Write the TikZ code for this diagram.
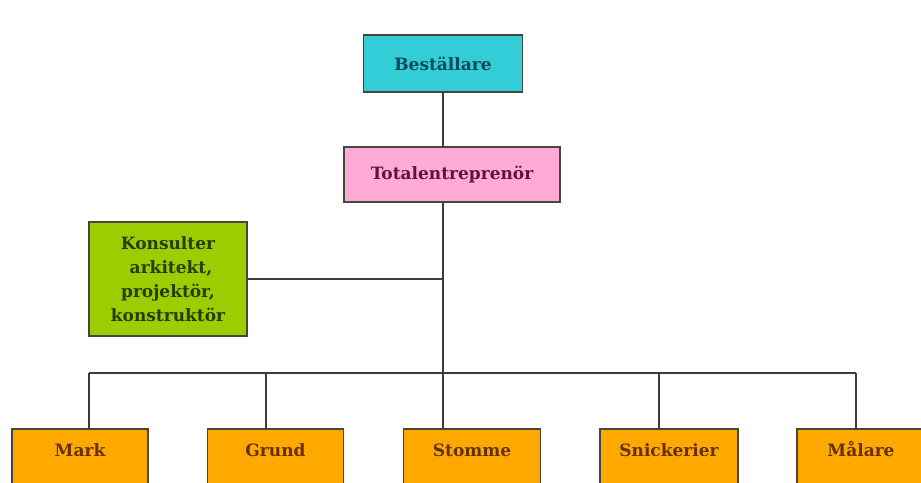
\documentclass[tikz,border=0pt]{standalone}
\usepackage{fontspec}
\setmainfont{DejaVu Serif}
\definecolor{cyanfill}{RGB}{50,205,215}
\definecolor{pinkfill}{RGB}{255,170,215}
\definecolor{greenfill}{RGB}{155,205,0}
\definecolor{orangefill}{RGB}{255,168,0}
\definecolor{tealtext}{RGB}{10,75,85}
\definecolor{purpletext}{RGB}{95,20,60}
\definecolor{greentext}{RGB}{40,60,0}
\definecolor{browntext}{RGB}{100,50,0}
\definecolor{linegray}{RGB}{60,60,60}
\definecolor{bordergray}{RGB}{70,70,60}
\tikzset{
  box/.style={draw=bordergray, line width=1.6pt, inner sep=0pt, font=\bfseries\fontsize{17}{24}\selectfont},
  obox/.style={box, fill=orangefill, text=browntext, anchor=north, minimum width=136pt, inner ysep=15pt, text height=13pt, text depth=45pt},
  conn/.style={draw=linegray, line width=1.5pt}
}
\begin{document}
\begin{tikzpicture}[x=1pt,y=-1pt]
\useasboundingbox (0,0) rectangle (921,482);
\clip (0,0) rectangle (921,482);
\node[box, fill=cyanfill, text=tealtext, minimum width=159pt, minimum height=57pt] (bes) at (443,63.5) {Beställare};
\node[box, fill=pinkfill, text=purpletext, minimum width=216pt, minimum height=55pt] (tot) at (452,174.5) {Totalentreprenör};
\node[box, fill=greenfill, text=greentext, minimum width=158pt, minimum height=114pt, align=center] (kons) at (168,279) {Konsulter\\ \ arkitekt,\\projektör,\\konstruktör};
\node[obox] (mark) at (80,428) {Mark};
\node[obox] (grund) at (275.5,428) {Grund};
\node[obox, minimum width=137pt] (stom) at (472,428) {Stomme};
\node[obox, minimum width=138pt] (snick) at (669,428) {Snickerier};
\node[obox, minimum width=128pt] (mal) at (861,428) {Målare};
\coordinate (bus) at (443,373);
\coordinate (d1) at (89,373);
\coordinate (d2) at (266,373);
\coordinate (d4) at (659,373);
\coordinate (d5) at (856,373);
\draw[conn] (bes.south) -- (bes.south |- tot.north);
\draw[conn] (tot.south -| bus) -- (bus) -- (bus |- stom.north);
\draw[conn] (kons.east) -- (kons.east -| bus);
\draw[conn] (d1) -- (d5);
\draw[conn] (d1) -- (d1 |- mark.north);
\draw[conn] (d2) -- (d2 |- grund.north);
\draw[conn] (d4) -- (d4 |- snick.north);
\draw[conn] (d5) -- (d5 |- mal.north);
\end{tikzpicture}
\end{document}
